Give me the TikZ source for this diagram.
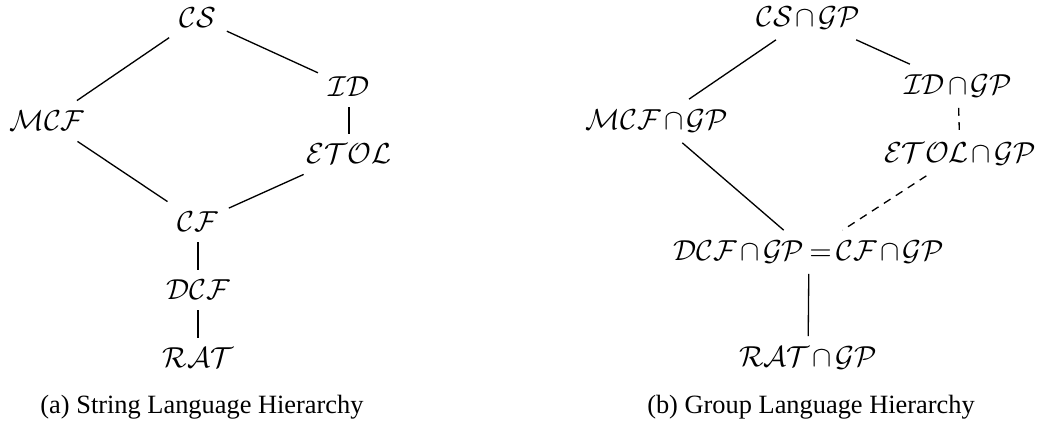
\documentclass[tikz,border=0pt]{standalone}
\usepackage[no-math]{fontspec}
\setmainfont{Liberation Serif}
% family names set in calligraphic math with tight operator spacing
\newcommand\langfam[1]{$\medmuskip=2mu\relax\thickmuskip=3mu\relax #1$}
\begin{document}
\begin{tikzpicture}[x=0.379pt, y=-0.379pt,
  lang/.style={inner sep=3pt, outer sep=1pt,
    font=\fontsize{10.9}{13}\selectfont},
  link/.style={line width=0.5pt},
  weak/.style={line width=0.5pt, dash pattern=on 3pt off 2.4pt}]
\useasboundingbox (0,0) rectangle (1039,425);

% (a) string language hierarchy
\node[lang] (cs)   at (198,18)  {\langfam{\mathcal{CS}}};
\node[lang] (id)   at (349,87)  {\langfam{\mathcal{ID}}};
\node[lang] (mcf)  at (47,121)  {\langfam{\mathcal{MCF}}};
\node[lang] (etol) at (349,154) {\langfam{\mathcal{ETOL}}};
\node[lang] (cf)   at (198,222) {\langfam{\mathcal{CF}}};
\node[lang] (dcf)  at (198,290) {\langfam{\mathcal{DCF}}};
\node[lang] (rat)  at (198,358) {\langfam{\mathcal{RAT}}};
\node (capa) at (202,407) {(a) String Language Hierarchy};

\draw[link] (cs) -- (mcf);
\draw[link] (cs) -- (id);
\draw[link] (id) -- (etol);
\draw[link] (mcf) -- (cf);
\draw[link] (etol) -- (cf);
\draw[link] (cf) -- (dcf);
\draw[link] (dcf) -- (rat);

% (b) group language hierarchy
\node[lang] (gcs)   at (808,18)  {\langfam{\mathcal{CS}\cap\mathcal{GP}}};
\node[lang] (gid)   at (958,86)  {\langfam{\mathcal{ID}\cap\mathcal{GP}}};
\node[lang] (gmcf)  at (657,121) {\langfam{\mathcal{MCF}\cap\mathcal{GP}}};
\node[lang] (getol) at (960,154) {\langfam{\mathcal{ETOL}\cap\mathcal{GP}}};
\node[lang] (gcf)   at (809,252) {\langfam{\mathcal{DCF}\cap\mathcal{GP}=\mathcal{CF}\cap\mathcal{GP}}};
\node[lang] (grat)  at (808,358) {\langfam{\mathcal{RAT}\cap\mathcal{GP}}};
\node (capb) at (811,407) {(b) Group Language Hierarchy};

\draw[link] (gcs) -- (gmcf);
\draw[link] (gcs) -- (gid);
\draw[weak] (gid) -- (getol);
\draw[link] (gmcf) -- (gcf);
\draw[weak] (getol) -- (gcf);
\draw[link] (gcf) -- (grat);
\end{tikzpicture}
\end{document}
